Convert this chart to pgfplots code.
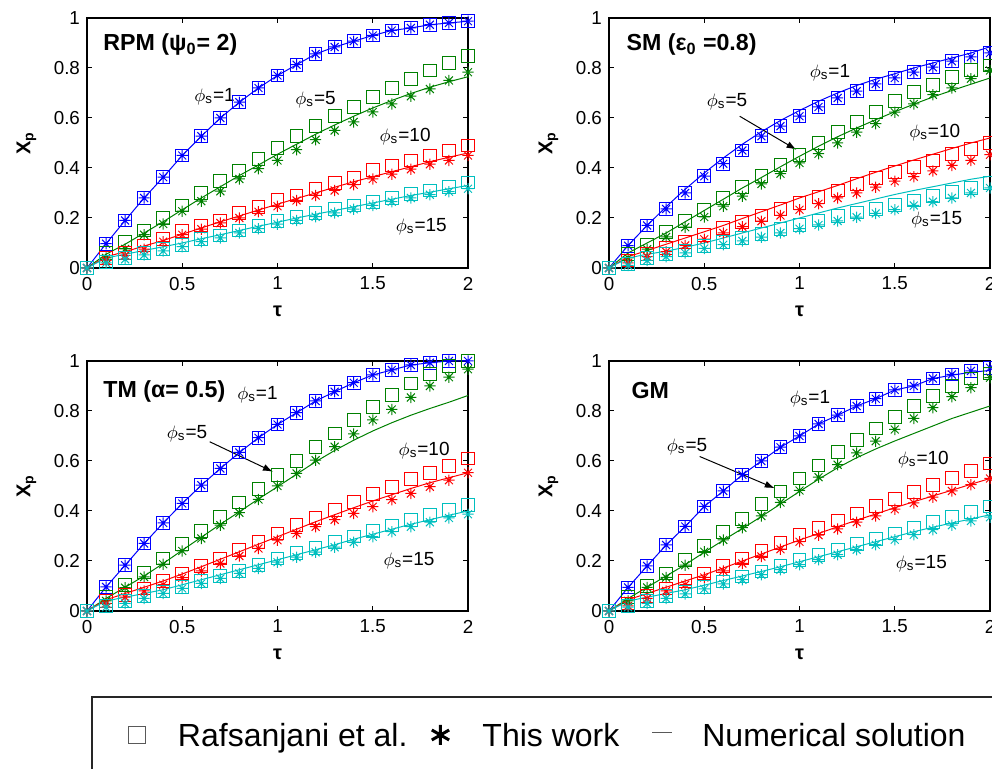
\documentclass[border=0pt]{standalone}
\usepackage{fontspec}
\setmainfont{Liberation Sans}
\usepackage{pgfplots}
\usepackage{pgfplotstable}
\pgfplotsset{compat=1.18}
\usetikzlibrary{arrows.meta}

\definecolor{mblue}{rgb}{0,0,1}
\definecolor{mgreen}{rgb}{0,0.5,0}
\definecolor{mred}{rgb}{1,0,0}
\definecolor{mcyan}{rgb}{0,0.75,0.75}

\pgfdeclareplotmark{mstar}{%
 \pgfpathmoveto{\pgfqpoint{-\pgfplotmarksize}{0pt}}\pgfpathlineto{\pgfqpoint{\pgfplotmarksize}{0pt}}%
 \pgfpathmoveto{\pgfqpoint{0pt}{-\pgfplotmarksize}}\pgfpathlineto{\pgfqpoint{0pt}{\pgfplotmarksize}}%
 \pgfpathmoveto{\pgfqpoint{-.707\pgfplotmarksize}{-.707\pgfplotmarksize}}\pgfpathlineto{\pgfqpoint{.707\pgfplotmarksize}{.707\pgfplotmarksize}}%
 \pgfpathmoveto{\pgfqpoint{-.707\pgfplotmarksize}{.707\pgfplotmarksize}}\pgfpathlineto{\pgfqpoint{.707\pgfplotmarksize}{-.707\pgfplotmarksize}}%
 \pgfusepathqstroke}

% t bs bt bl gs gt gl rs rt rl cs ct cl
\pgfplotstableread{
t bs bt bl gs gt gl rs rt rl cs ct cl
0.0 0 0 0 0 0 0 0 0 0 0 0 0
0.1 0.097 0.097 0.097 0.06 0.04 0.055 0.04 0.03 0.045 0.025 0.02 0.04
0.2 0.19 0.19 0.19 0.104 0.076 0.095 0.06 0.05 0.065 0.04 0.035 0.055
0.3 0.28 0.28 0.28 0.15 0.133 0.14 0.09 0.075 0.088 0.06 0.052 0.07
0.4 0.363 0.363 0.363 0.20 0.176 0.185 0.115 0.105 0.11 0.077 0.068 0.085
0.5 0.45 0.45 0.45 0.25 0.227 0.233 0.147 0.133 0.135 0.093 0.085 0.1
0.6 0.527 0.527 0.527 0.30 0.267 0.28 0.17 0.155 0.16 0.115 0.105 0.117
0.7 0.60 0.60 0.60 0.347 0.307 0.325 0.19 0.18 0.185 0.13 0.12 0.133
0.8 0.663 0.663 0.663 0.39 0.356 0.37 0.22 0.20 0.208 0.15 0.14 0.15
0.9 0.72 0.72 0.72 0.436 0.397 0.412 0.245 0.225 0.232 0.168 0.157 0.167
1.0 0.77 0.77 0.77 0.48 0.43 0.455 0.273 0.247 0.255 0.187 0.175 0.183
1.1 0.813 0.813 0.813 0.527 0.473 0.495 0.29 0.27 0.278 0.203 0.19 0.2
1.2 0.856 0.856 0.856 0.567 0.513 0.535 0.315 0.29 0.30 0.22 0.205 0.215
1.3 0.884 0.884 0.884 0.607 0.55 0.572 0.34 0.31 0.323 0.237 0.22 0.23
1.4 0.907 0.907 0.907 0.644 0.584 0.607 0.36 0.333 0.345 0.25 0.235 0.245
1.5 0.93 0.93 0.93 0.683 0.624 0.64 0.393 0.356 0.365 0.264 0.25 0.26
1.6 0.95 0.95 0.95 0.72 0.656 0.67 0.41 0.375 0.385 0.28 0.265 0.275
1.7 0.96 0.96 0.96 0.756 0.687 0.698 0.43 0.395 0.405 0.297 0.28 0.29
1.8 0.973 0.973 0.973 0.79 0.716 0.723 0.45 0.415 0.425 0.31 0.293 0.303
1.9 0.98 0.98 0.98 0.82 0.75 0.745 0.47 0.43 0.443 0.325 0.305 0.317
2.0 0.987 0.987 0.987 0.847 0.783 0.765 0.49 0.45 0.46 0.342 0.317 0.33
}\tabRPM

\pgfplotstableread{
t bs bt bl gs gt gl rs rt rl cs ct cl
0.0 0 0 0 0 0 0 0 0 0 0 0 0
0.1 0.089 0.089 0.09 0.057 0.04 0.06 0.03 0.02 0.045 0.015 0.01 0.04
0.2 0.17 0.17 0.17 0.093 0.075 0.10 0.055 0.045 0.07 0.04 0.03 0.055
0.3 0.236 0.236 0.245 0.143 0.124 0.14 0.08 0.065 0.095 0.055 0.045 0.067
0.4 0.30 0.30 0.315 0.187 0.163 0.185 0.105 0.09 0.12 0.07 0.06 0.083
0.5 0.367 0.367 0.38 0.233 0.204 0.23 0.133 0.115 0.145 0.089 0.078 0.1
0.6 0.417 0.417 0.44 0.28 0.247 0.275 0.16 0.14 0.17 0.105 0.093 0.12
0.7 0.47 0.47 0.495 0.324 0.287 0.32 0.185 0.165 0.198 0.12 0.108 0.14
0.8 0.527 0.527 0.545 0.367 0.336 0.362 0.21 0.187 0.225 0.137 0.123 0.16
0.9 0.567 0.567 0.59 0.413 0.377 0.405 0.235 0.21 0.252 0.155 0.14 0.18
1.0 0.607 0.607 0.63 0.453 0.42 0.447 0.26 0.233 0.28 0.173 0.157 0.2
1.1 0.644 0.644 0.667 0.50 0.457 0.487 0.285 0.257 0.305 0.19 0.172 0.22
1.2 0.68 0.68 0.70 0.543 0.50 0.525 0.31 0.28 0.33 0.207 0.188 0.24
1.3 0.707 0.707 0.73 0.583 0.543 0.56 0.335 0.30 0.357 0.222 0.203 0.258
1.4 0.736 0.736 0.755 0.624 0.577 0.593 0.36 0.323 0.383 0.237 0.218 0.276
1.5 0.76 0.76 0.777 0.667 0.623 0.625 0.383 0.347 0.408 0.253 0.233 0.294
1.6 0.783 0.783 0.80 0.703 0.656 0.655 0.405 0.365 0.432 0.27 0.25 0.31
1.7 0.803 0.803 0.82 0.733 0.693 0.684 0.43 0.388 0.455 0.287 0.265 0.325
1.8 0.827 0.827 0.84 0.764 0.72 0.71 0.455 0.41 0.478 0.303 0.28 0.34
1.9 0.844 0.844 0.86 0.793 0.757 0.735 0.475 0.43 0.50 0.32 0.30 0.355
2.0 0.86 0.86 0.885 0.81 0.79 0.76 0.50 0.453 0.52 0.34 0.32 0.367
}\tabSM

\pgfplotstableread{
t bs bt bl gs gt gl rs rt rl cs ct cl
0.0 0 0 0 0 0 0 0 0 0 0 0 0
0.1 0.096 0.096 0.096 0.056 0.04 0.05 0.04 0.03 0.045 0.02 0.015 0.04
0.2 0.183 0.183 0.183 0.103 0.093 0.095 0.065 0.055 0.07 0.04 0.03 0.055
0.3 0.27 0.27 0.27 0.154 0.136 0.14 0.09 0.08 0.095 0.06 0.05 0.07
0.4 0.352 0.352 0.352 0.21 0.187 0.19 0.12 0.105 0.12 0.078 0.07 0.085
0.5 0.43 0.43 0.43 0.267 0.24 0.243 0.15 0.133 0.148 0.097 0.09 0.105
0.6 0.503 0.503 0.503 0.32 0.29 0.295 0.18 0.16 0.177 0.12 0.11 0.125
0.7 0.57 0.57 0.57 0.377 0.343 0.347 0.21 0.19 0.207 0.14 0.13 0.145
0.8 0.634 0.634 0.634 0.434 0.393 0.397 0.245 0.22 0.237 0.16 0.15 0.165
0.9 0.693 0.693 0.693 0.487 0.446 0.448 0.277 0.25 0.267 0.185 0.17 0.185
1.0 0.746 0.746 0.746 0.543 0.50 0.497 0.31 0.283 0.297 0.21 0.195 0.205
1.1 0.793 0.793 0.793 0.60 0.55 0.547 0.343 0.31 0.327 0.232 0.215 0.225
1.2 0.84 0.84 0.84 0.657 0.603 0.597 0.373 0.337 0.357 0.253 0.235 0.245
1.3 0.877 0.877 0.877 0.71 0.657 0.642 0.403 0.365 0.385 0.275 0.255 0.265
1.4 0.913 0.913 0.913 0.764 0.708 0.683 0.435 0.39 0.413 0.298 0.275 0.287
1.5 0.944 0.944 0.944 0.817 0.764 0.72 0.467 0.417 0.44 0.32 0.297 0.307
1.6 0.964 0.964 0.964 0.864 0.806 0.753 0.497 0.445 0.465 0.342 0.317 0.327
1.7 0.984 0.984 0.984 0.91 0.854 0.783 0.527 0.47 0.49 0.363 0.337 0.347
1.8 0.993 0.993 0.993 0.948 0.90 0.81 0.553 0.497 0.513 0.383 0.355 0.365
1.9 1.0 1.0 1.0 0.98 0.935 0.835 0.58 0.523 0.533 0.403 0.372 0.383
2.0 1.0 1.0 1.0 1.0 0.967 0.862 0.61 0.553 0.553 0.423 0.387 0.40
}\tabTM

\pgfplotstableread{
t bs bt bl gs gt gl rs rt rl cs ct cl
0.0 0 0 0 0 0 0 0 0 0 0 0 0
0.1 0.094 0.094 0.094 0.056 0.04 0.05 0.03 0.02 0.045 0.02 0.015 0.04
0.2 0.18 0.18 0.18 0.10 0.094 0.095 0.06 0.05 0.07 0.04 0.03 0.055
0.3 0.264 0.264 0.264 0.15 0.134 0.14 0.09 0.08 0.095 0.06 0.05 0.07
0.4 0.338 0.338 0.338 0.203 0.183 0.185 0.12 0.105 0.12 0.078 0.068 0.085
0.5 0.418 0.418 0.418 0.26 0.237 0.235 0.15 0.134 0.145 0.096 0.088 0.103
0.6 0.48 0.48 0.48 0.315 0.284 0.283 0.18 0.16 0.172 0.118 0.108 0.122
0.7 0.545 0.545 0.545 0.368 0.333 0.33 0.21 0.19 0.2 0.138 0.125 0.14
0.8 0.60 0.60 0.60 0.427 0.38 0.378 0.24 0.218 0.228 0.158 0.145 0.158
0.9 0.655 0.655 0.655 0.478 0.434 0.428 0.272 0.247 0.256 0.18 0.165 0.177
1.0 0.70 0.70 0.70 0.53 0.482 0.478 0.304 0.277 0.284 0.203 0.185 0.197
1.1 0.748 0.748 0.748 0.582 0.535 0.527 0.333 0.303 0.31 0.225 0.205 0.217
1.2 0.783 0.783 0.783 0.635 0.585 0.573 0.362 0.328 0.337 0.245 0.225 0.237
1.3 0.82 0.82 0.82 0.683 0.632 0.613 0.39 0.355 0.363 0.267 0.245 0.257
1.4 0.849 0.849 0.849 0.73 0.679 0.648 0.42 0.38 0.388 0.288 0.265 0.277
1.5 0.884 0.884 0.884 0.776 0.726 0.68 0.448 0.407 0.413 0.31 0.285 0.297
1.6 0.90 0.90 0.90 0.82 0.77 0.71 0.477 0.432 0.437 0.333 0.305 0.317
1.7 0.93 0.93 0.93 0.86 0.813 0.74 0.505 0.455 0.46 0.355 0.325 0.335
1.8 0.946 0.946 0.943 0.90 0.857 0.77 0.533 0.48 0.483 0.375 0.343 0.352
1.9 0.96 0.96 0.955 0.93 0.893 0.795 0.56 0.505 0.507 0.397 0.36 0.368
2.0 0.973 0.973 0.962 0.95 0.933 0.82 0.59 0.53 0.53 0.418 0.375 0.385
}\tabGM

\newcommand{\annfont}{\fontsize{9.5}{11}\selectfont}
\newcommand{\titlefont}{\fontsize{11.6}{13}\selectfont\bfseries}
\newcommand{\ps}[1]{$\phi$\textsubscript{s}=#1}

\pgfplotsset{
 sq/.style={only marks, mark=square, mark size=3.2pt, mark options={line width=0.5pt}},
 st/.style={only marks, mark=mstar, mark size=2.8pt, mark options={line width=0.5pt}},
 ln/.style={no marks, line width=0.5pt},
 legsq/.style={only marks, mark=square, mark size=4.2pt, black!65, mark options={line width=0.5pt},
  legend image code/.code={\path[draw=none,fill=none] (-4.5pt,2pt) -- (20.5pt,2pt); \draw[##1] plot coordinates {(0pt,2pt)};}},
 legst/.style={only marks, mark=asterisk, mark size=5pt, black, mark options={line width=1.5pt},
  legend image code/.code={\path[draw=none,fill=none] (-16.5pt,2pt) -- (21pt,2pt); \draw[##1] plot coordinates {(0pt,2pt)};}},
 legln/.style={black!65, line width=0.5pt,
  legend image code/.code={\path[draw=none,fill=none] (-21.5pt,2pt) -- (20pt,2pt); \draw[##1] (-5pt,3pt) -- (5pt,3pt);}},
 panel/.style={
  scale only axis, width=190.5pt, height=125pt,
  xmin=0, xmax=2, ymin=0, ymax=1,
  xtick={0,0.5,1,1.5,2}, ytick={0,0.2,0.4,0.6,0.8,1},
  tick align=inside, major tick length=2.5pt,
  tick label style={font=\fontsize{9.4}{11}\selectfont, black},
  /pgf/number format/assume math mode=true,
  axis line style={line width=0.6pt},
  every tick/.style={black, line width=0.5pt},
  clip=false,
  xlabel={\textbf{τ}}, ylabel={\textbf{X\textsubscript{p}}},
  label style={font=\fontsize{12.5}{14}\selectfont},
  every axis y label/.style={at={(axis description cs:-0.159,0.5)}, rotate=90, anchor=center},
  every axis x label/.style={at={(axis description cs:0.5,-0.172)}, anchor=center},
  xticklabel style={yshift=-1pt},
 }
}

\newcommand{\panelplots}[1]{%
 \addplot[mblue,sq] table[x=t,y=bs]{#1};
 \addplot[mblue,st] table[x=t,y=bt]{#1};
 \addplot[mblue,ln] table[x=t,y=bl]{#1};
 \addplot[mgreen,sq] table[x=t,y=gs]{#1};
 \addplot[mgreen,st] table[x=t,y=gt]{#1};
 \addplot[mgreen,ln] table[x=t,y=gl]{#1};
 \addplot[mred,sq] table[x=t,y=rs]{#1};
 \addplot[mred,st] table[x=t,y=rt]{#1};
 \addplot[mred,ln] table[x=t,y=rl]{#1};
 \addplot[mcyan,sq] table[x=t,y=cs]{#1};
 \addplot[mcyan,st] table[x=t,y=ct]{#1};
 \addplot[mcyan,ln] table[x=t,y=cl]{#1};
}

\begin{document}
\begin{tikzpicture}
\useasboundingbox (0,0) rectangle (496pt,384.5pt);

% Panel 1: RPM
\begin{axis}[panel, at={(43.5pt,250.5pt)}, anchor=south west]
\panelplots{\tabRPM}
\node[anchor=west, inner sep=0pt, font=\titlefont] at (axis cs:0.084,0.893) {RPM (ψ\textsubscript{0}= 2)};
\node[inner sep=0pt, font=\annfont] at (axis cs:0.67,0.687) {\ps{1}};
\node[inner sep=0pt, font=\annfont] at (axis cs:1.2,0.673) {\ps{5}};
\node[inner sep=0pt, font=\annfont] at (axis cs:1.67,0.527) {\ps{10}};
\node[inner sep=0pt, font=\annfont] at (axis cs:1.755,0.167) {\ps{15}};
\end{axis}

% Panel 2: SM
\begin{axis}[panel, at={(304.5pt,250.5pt)}, anchor=south west]
\panelplots{\tabSM}
\node[anchor=west, inner sep=0pt, font=\titlefont] at (axis cs:0.09,0.893) {SM (ε\textsubscript{0} =0.8)};
\node[inner sep=0pt, font=\annfont] at (axis cs:1.16,0.78) {\ps{1}};
\node[inner sep=0pt, font=\annfont] at (axis cs:0.62,0.667) {\ps{5}};
\node[inner sep=0pt, font=\annfont] at (axis cs:1.71,0.54) {\ps{10}};
\node[inner sep=0pt, font=\annfont] at (axis cs:1.72,0.193) {\ps{15}};
\draw[line width=0.5pt, -{Latex[length=5pt,width=3.5pt]}] (axis cs:0.686,0.607) -- (axis cs:0.984,0.473);
\end{axis}

% Panel 3: TM
\begin{axis}[panel, at={(43.5pt,79pt)}, anchor=south west,
  legend style={at={(rel axis cs:0.1076,-0.512)}, anchor=west, draw=none, fill=none,
    inner sep=0pt, outer sep=0pt, legend columns=3,
    font=\fontsize{16}{19}\selectfont,
    nodes={inner sep=0pt, text height=12pt, text depth=4pt},
    /tikz/column sep=0pt},
  legend cell align=left]
\addlegendimage{legsq}
\addlegendentry{Rafsanjani et al.}
\addlegendimage{legst}
\addlegendentry{This work}
\addlegendimage{legln}
\addlegendentry{Numerical solution}
\panelplots{\tabTM}
\node[anchor=west, inner sep=0pt, font=\titlefont] at (axis cs:0.084,0.877) {TM (α= 0.5)};
\node[inner sep=0pt, font=\annfont] at (axis cs:0.895,0.864) {\ps{1}};
\node[inner sep=0pt, font=\annfont] at (axis cs:0.525,0.71) {\ps{5}};
\node[inner sep=0pt, font=\annfont] at (axis cs:1.77,0.643) {\ps{10}};
\node[inner sep=0pt, font=\annfont] at (axis cs:1.69,0.203) {\ps{15}};
\draw[line width=0.5pt, -{Latex[length=5pt,width=3.5pt]}] (axis cs:0.644,0.677) -- (axis cs:0.976,0.557);
\end{axis}

% Panel 4: GM
\begin{axis}[panel, at={(304.5pt,79pt)}, anchor=south west]
\panelplots{\tabGM}
\node[anchor=west, inner sep=0pt, font=\titlefont] at (axis cs:0.117,0.88) {GM};
\node[inner sep=0pt, font=\annfont] at (axis cs:1.055,0.849) {\ps{1}};
\node[inner sep=0pt, font=\annfont] at (axis cs:0.41,0.659) {\ps{5}};
\node[inner sep=0pt, font=\annfont] at (axis cs:1.65,0.605) {\ps{10}};
\node[inner sep=0pt, font=\annfont] at (axis cs:1.64,0.19) {\ps{15}};
\draw[line width=0.5pt, -{Latex[length=5pt,width=3.5pt]}] (axis cs:0.476,0.618) -- (axis cs:0.87,0.491);
\end{axis}

% legend frame
\draw[line width=0.7pt, black!85] (46pt,-20pt) rectangle (530pt,36pt);
\end{tikzpicture}
\end{document}
